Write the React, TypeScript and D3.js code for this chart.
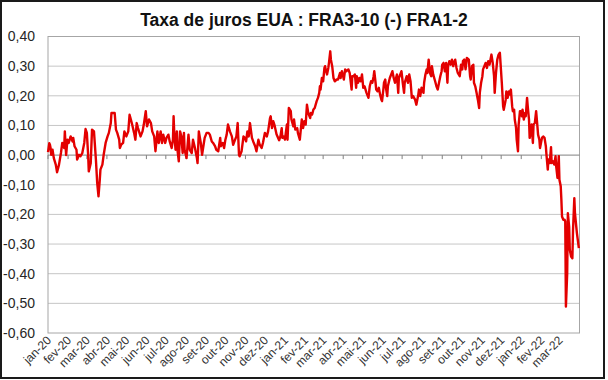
import React from "react";
import * as d3 from "d3";

const title = "Taxa de juros EUA : FRA3-10 (-) FRA1-2";

const xTickLabels = [
  "jan-20", "fev-20", "mar-20", "abr-20", "mai-20", "jun-20", "jul-20", "ago-20", "set-20",
  "out-20", "nov-20", "dez-20", "jan-21", "fev-21", "mar-21", "abr-21", "mai-21", "jun-21",
  "jul-21", "ago-21", "set-21", "out-21", "nov-21", "dez-21", "jan-22", "fev-22", "mar-22",
];

const yTicks = [0.4, 0.3, 0.2, 0.1, 0.0, -0.1, -0.2, -0.3, -0.4, -0.5, -0.6];

// days since 2020-01-01
const dayOffsets = [
  0, 2, 3, 4, 5, 7, 9, 12, 14, 17, 20, 22, 25, 26, 28, 30, 32, 35, 38, 39, 41, 44, 45, 48, 50,
  53, 56, 58, 60, 62, 63, 66, 68, 71, 74, 76, 78, 80, 81, 84, 86, 89, 92, 94, 97, 98, 102, 103,
  105, 107, 110, 111, 113, 116, 118, 121, 124, 126, 128, 130, 133, 135, 137, 139, 143, 146, 148,
  151, 153, 156, 159, 161, 164, 166, 169, 171, 174, 176, 178, 181, 183, 186, 188, 191, 193, 194,
  195, 197, 199, 200, 202, 204, 206, 208, 210, 211, 214, 217, 219, 222, 224, 227, 230, 231, 233,
  236, 238, 240, 242, 245, 248, 250, 253, 255, 258, 260, 263, 266, 267, 270, 272, 274, 276, 278,
  281, 284, 286, 289, 291, 293, 295, 296, 299, 302, 304, 306, 308, 310, 312, 315, 317, 320, 322,
  325, 327, 330, 332, 335, 338, 340, 343, 344, 346, 348, 350, 353, 356, 357, 359, 361, 362, 364,
  366, 369, 370, 372, 375, 376, 379, 380, 382, 385, 386, 389, 392, 394, 396, 398, 400, 402, 405,
  406, 408, 410, 412, 415, 417, 419, 420, 421, 423, 425, 427, 428, 429, 431, 433, 434, 436, 437,
  439, 441, 443, 446, 448, 451, 452, 454, 457, 459, 461, 464, 466, 469, 470, 472, 474, 476, 477,
  479, 481, 483, 485, 487, 489, 492, 495, 497, 499, 501, 503, 504, 506, 507, 509, 511, 513, 515,
  516, 518, 519, 521, 522, 524, 525, 528, 531, 532, 534, 536, 537, 539, 541, 542, 545, 546, 548,
  550, 551, 554, 556, 558, 560, 562, 564, 567, 569, 572, 573, 575, 577, 580, 581, 583, 585, 586,
  588, 590, 592, 593, 595, 598, 600, 602, 604, 606, 608, 609, 611, 613, 615, 617, 618, 620, 622,
  624, 626, 627, 629, 631, 633, 636, 638, 640, 641, 643, 645, 647, 650, 652, 653, 655, 657, 658,
  660, 662, 664, 666, 667, 669, 671, 672, 674, 676, 678, 680, 682, 685, 687, 689, 690, 692, 694,
  696, 698, 699, 701, 703, 704, 707, 708, 710, 712, 713, 715, 717, 718, 720, 721, 723, 724, 726,
  727, 729, 730, 732, 733, 735, 737, 738, 740, 741, 743, 744, 746, 747, 749, 750, 752, 754, 756,
  757, 759, 760, 762, 763, 765, 767, 769, 770, 772, 773, 775, 777, 778, 780, 782, 784, 785, 787,
  789, 790, 792, 793, 794, 796, 798, 799, 800, 802, 803, 805, 806, 808, 810, 811, 813, 814, 816,
  817, 819, 820,
];

const spreadValues = [
  0.01, 0.04, 0.035, 0.024, 0.001, 0.018, -0.01, -0.032, -0.058, -0.032, 0.007, 0.041, 0.024,
  0.08, 0.0, 0.052, 0.041, 0.063, 0.046, 0.058, 0.03, 0.018, -0.015, 0.001, -0.004,
  0.007, 0.041, 0.088, 0.075, 0.001, -0.055, -0.027, 0.086, 0.08, -0.015, -0.094, -0.139, -0.083,
  -0.049, -0.032, 0.001, 0.041, 0.063, 0.075, 0.108, 0.142, 0.142, 0.142,
  0.086, 0.075, 0.052, 0.024, 0.035, 0.041, 0.08, 0.063, 0.08, 0.136, 0.12, 0.103, 0.075, 0.052,
  0.108, 0.091, 0.063, 0.08, 0.103,
  0.148, 0.097, 0.12, 0.108, 0.08, 0.063, 0.013, 0.08, 0.041, 0.08, 0.041, 0.069, 0.041, 0.058,
  0.069, 0.046, 0.024, 0.052, 0.131,
  0.075, 0.018, 0.08, 0.018, -0.021, 0.08, 0.063, 0.007, 0.075, 0.018, -0.01, 0.069, 0.018, 0.007,
  0.052, 0.024, -0.01, -0.027, 0.08,
  0.041, 0.001, 0.03, 0.058, 0.075, 0.075, 0.069, 0.046, 0.041, 0.03, 0.018, 0.013, 0.058, 0.03,
  0.041, 0.024, 0.052, 0.069, 0.103,
  0.08, 0.063, 0.035, 0.052, 0.063, 0.108, 0.001, -0.004, 0.013, 0.063, 0.058, 0.046, 0.08, 0.063,
  0.108, 0.058, 0.046, 0.03, 0.013,
  0.052, 0.035, 0.024, 0.041, 0.075, 0.063, 0.08, 0.125, 0.131, 0.091, 0.114, 0.1, 0.07, 0.055,
  0.05, 0.063, 0.091, 0.058, 0.063,
  0.052, 0.103, 0.052, 0.159, 0.148, 0.12, 0.097, 0.12, 0.086, 0.091, 0.075, 0.052, 0.12, 0.091,
  0.114, 0.103, 0.17, 0.142, 0.125,
  0.142, 0.137, 0.154, 0.159, 0.182, 0.193, 0.21, 0.232, 0.221, 0.26, 0.249, 0.294, 0.3, 0.289,
  0.272, 0.294, 0.311, 0.35, 0.322,
  0.3, 0.26, 0.249, 0.255, 0.255, 0.277, 0.26, 0.283, 0.255, 0.289, 0.283, 0.289, 0.277, 0.221,
  0.266, 0.266, 0.272, 0.227, 0.266,
  0.244, 0.26, 0.249, 0.272, 0.227, 0.232, 0.21, 0.193, 0.232, 0.249, 0.244, 0.266, 0.283, 0.244,
  0.221, 0.215, 0.227, 0.204, 0.187,
  0.182, 0.221, 0.244, 0.255, 0.227, 0.199, 0.232, 0.26, 0.277, 0.283, 0.26, 0.244, 0.255, 0.272,
  0.21, 0.26, 0.277, 0.283, 0.244,
  0.21, 0.244, 0.266, 0.244, 0.272, 0.249, 0.193, 0.199, 0.187, 0.17, 0.204, 0.221, 0.199, 0.227,
  0.21, 0.244, 0.272, 0.289, 0.277,
  0.322, 0.277, 0.266, 0.3, 0.272, 0.249, 0.232, 0.221, 0.244, 0.266, 0.283, 0.305, 0.311, 0.283,
  0.311, 0.244, 0.3, 0.317, 0.305,
  0.322, 0.3, 0.311, 0.322, 0.294, 0.277, 0.266, 0.305, 0.289, 0.317, 0.322, 0.289, 0.328, 0.322,
  0.266, 0.255, 0.3, 0.305, 0.244,
  0.232, 0.21, 0.187, 0.159, 0.21, 0.244, 0.266, 0.289, 0.3, 0.311, 0.294, 0.317, 0.305, 0.339,
  0.311, 0.266, 0.21, 0.277, 0.322,
  0.339, 0.345, 0.311, 0.244, 0.165, 0.153, 0.187, 0.215, 0.193, 0.215, 0.204, 0.221, 0.165, 0.148,
  0.153, 0.12, 0.092, 0.052, 0.013,
  0.103, 0.148, 0.148, 0.131, 0.153, 0.12, 0.142, 0.131, 0.193, 0.165, 0.12, 0.058, 0.08, 0.103,
  0.041, 0.103, 0.108, 0.148, 0.097,
  0.069, 0.052, 0.024, 0.047, 0.058, 0.063, 0.058, 0.03, 0.001, -0.049, -0.015, -0.027, 0.027,
  -0.027, -0.021, -0.032, -0.004, -0.038, -0.077,
  -0.004, -0.083, -0.105, -0.15, -0.207, -0.218, -0.218, -0.224, -0.511, -0.398, -0.196, -0.241,
  -0.319, -0.342, -0.348, -0.252, -0.145, -0.196, -0.241,
  -0.263, -0.297, -0.314,
];

const W = 608;
const H = 380;
const left = 48;
const right = 579.5;
const top = 36.5;
const bottom = 333;
const FONT = "'Liberation Sans', Arial, sans-serif";

export default function App() {
  const start = new Date(2020, 0, 1);
  const end = new Date(2022, 3, 1);
  const x = d3.scaleTime().domain([start, end]).range([left, right]);
  const y = d3.scaleLinear().domain([-0.6, 0.4]).range([bottom, top]);

  const data = dayOffsets.map((d, i) => ({
    date: d3.timeDay.offset(start, d),
    value: spreadValues[i],
  }));

  const line = d3
    .line<{ date: Date; value: number }>()
    .x((d) => x(d.date))
    .y((d) => y(d.value));

  const months = d3.timeMonth.range(start, end);
  const y0 = y(0);

  const fmt = (v: number) => (Math.abs(v) < 1e-9 ? "0,00" : v.toFixed(2).replace(".", ","));

  return (
    <svg
      width={W}
      height={H}
      style={{ position: "absolute", left: 0, top: 0, background: "#fff" }}
      fontFamily={FONT}
    >
      <rect x={0} y={0} width={W} height={H} fill="#fff" />
      <rect x={1} y={1} width={603} height={377} fill="none" stroke="#1a1a1a" strokeWidth={2} />
      <text x={304} y={26} textAnchor="middle" fontSize={17.5} fontWeight="bold" fill="#111">
        {title}
      </text>
      {yTicks.map((t) => (
        <g key={t}>
          {t !== 0 && t !== 0.4 && t !== -0.6 && (
            <line x1={left} x2={right} y1={y(t)} y2={y(t)} stroke="#c6c6c6" strokeWidth={1} />
          )}
          <text x={35} y={y(t)} dy="0.35em" textAnchor="end" fontSize={14} fill="#262626">
            {fmt(t)}
          </text>
        </g>
      ))}
      <rect
        x={left}
        y={top}
        width={right - left}
        height={bottom - top}
        fill="none"
        stroke="#a6a6a6"
        strokeWidth={1}
      />
      <line x1={left} x2={right} y1={y0} y2={y0} stroke="#808080" strokeWidth={1} />
      {months.map((m, i) => (
        <g key={i}>
          <line x1={x(m)} x2={x(m)} y1={y0} y2={y0 + 4} stroke="#808080" strokeWidth={1} />
          <text
            transform={`translate(${x(m) + 4},${bottom + 8}) rotate(-45)`}
            textAnchor="end"
            fontSize={12}
            fill="#333"
          >
            {xTickLabels[i]}
          </text>
        </g>
      ))}
      <path
        d={line(data) || ""}
        fill="none"
        stroke="#e30000"
        strokeWidth={2.4}
        strokeLinejoin="round"
      />
    </svg>
  );
}
